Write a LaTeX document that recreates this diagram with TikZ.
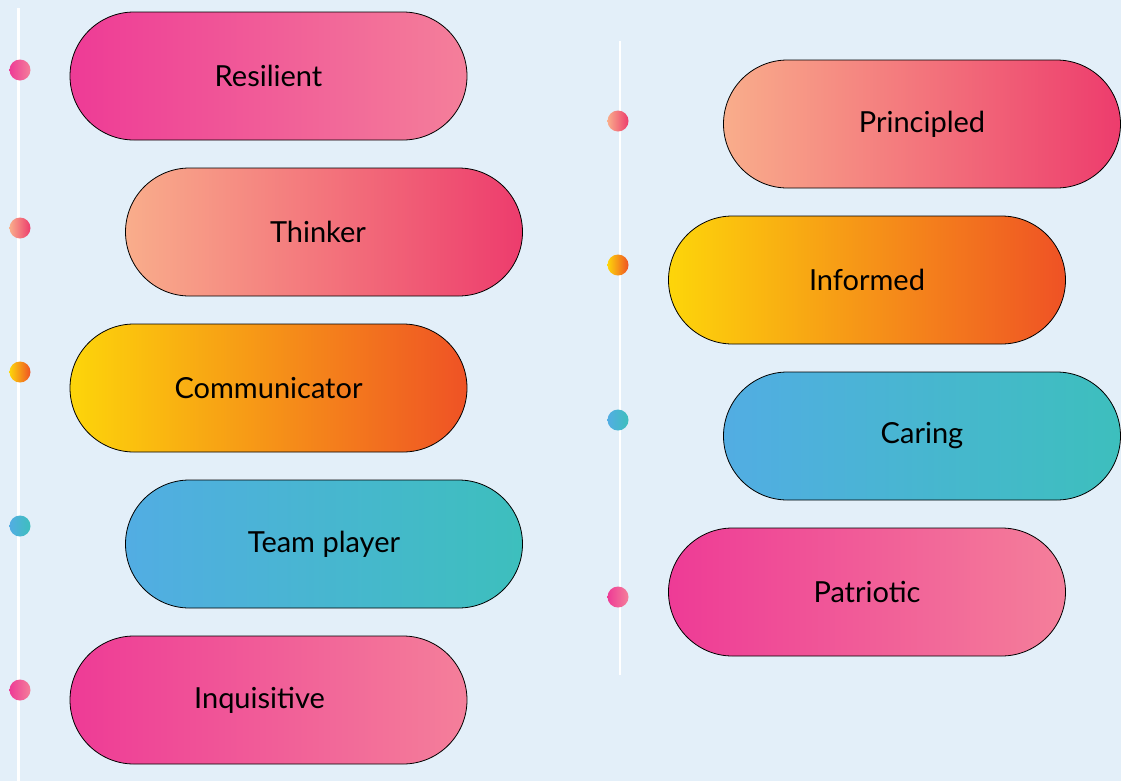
\documentclass[tikz,border=0pt]{standalone}
\usepackage{fontspec}
\setmainfont{Lato}
\usepackage{xcolor}
\usepackage{tikz}
\usetikzlibrary{shapes,positioning}

\definecolor{bgblue}{HTML}{E3EFF9}
\definecolor{pinkL}{HTML}{EE3B96}
\definecolor{pinkR}{HTML}{F47F9A}
\definecolor{peachL}{HTML}{F9AD8B}
\definecolor{peachR}{HTML}{ED3C6D}
\definecolor{sunL}{HTML}{FDD50A}
\definecolor{sunR}{HTML}{EF5225}
\definecolor{seaL}{HTML}{52ADE3}
\definecolor{seaR}{HTML}{3DBFBD}

\begin{document}
\begin{tikzpicture}[
    x=1pt, y=-1pt,
    node distance=28pt,
    pill/.style={rectangle, draw=black, line width=0.8pt, rounded corners=64pt,
        minimum width=397pt, minimum height=128pt, inner sep=0pt, outer sep=0pt,
        font=\fontsize{29}{34}\selectfont},
    dot/.style={circle, minimum size=21pt, inner sep=0pt},
    rail/.style={draw=white, line width=3pt},
    pink/.style={left color=pinkL, right color=pinkR},
    peach/.style={left color=peachL, right color=peachR},
    sun/.style={left color=sunL, right color=sunR},
    sea/.style={left color=seaL, right color=seaR}
]

% Background
\fill[bgblue] (0,0) rectangle (1121,781);

% Rails
\coordinate (railAtop) at (18.5,8);
\coordinate (railAbot) at (18.5,781);
\coordinate (railBtop) at (620,41);
\coordinate (railBbot) at (620,675);
\draw[rail] (railAtop) -- (railAbot);
\draw[rail, line width=2.5pt] (railBtop) -- (railBbot);

% Markers on the left rail
\node[dot, pink] (dotA) at (20,70) {};
\node[dot, peach] (dotB) at (20,228) {};
\node[dot, sun] (dotC) at (20,372) {};
\node[dot, sea] (dotD) at (20,526) {};
\node[dot, pink] (dotE) at (20,690) {};

% Markers on the right rail
\node[dot, peach] (dotF) at (618,121) {};
\node[dot, sun] (dotG) at (618,265) {};
\node[dot, sea] (dotH) at (618,420) {};
\node[dot, pink] (dotI) at (618,597) {};

% Left column
\node[pill, pink] (resilient) at (268.5,76) {Resilient};
\node[pill, peach, below=of resilient, xshift=55.5pt] (thinker) {\hspace*{-12pt}Thinker};
\node[pill, sun, below=of thinker, xshift=-55.5pt] (communicator) {Communicator};
\node[pill, sea, below=of communicator, xshift=55.5pt] (teamplayer) {Team player};
\node[pill, pink, below=of teamplayer, xshift=-55.5pt] (inquisitive) {\hspace*{-18pt}Inquisitive};

% Right column
\node[pill, peach] (principled) at (922,124) {Principled};
\node[pill, sun, below=of principled, xshift=-55pt] (informed) {Informed};
\node[pill, sea, below=of informed, xshift=55pt] (caring) {Caring};
\node[pill, pink, below=of caring, xshift=-55pt] (patriotic) {Patriotic};

\end{tikzpicture}
\end{document}
